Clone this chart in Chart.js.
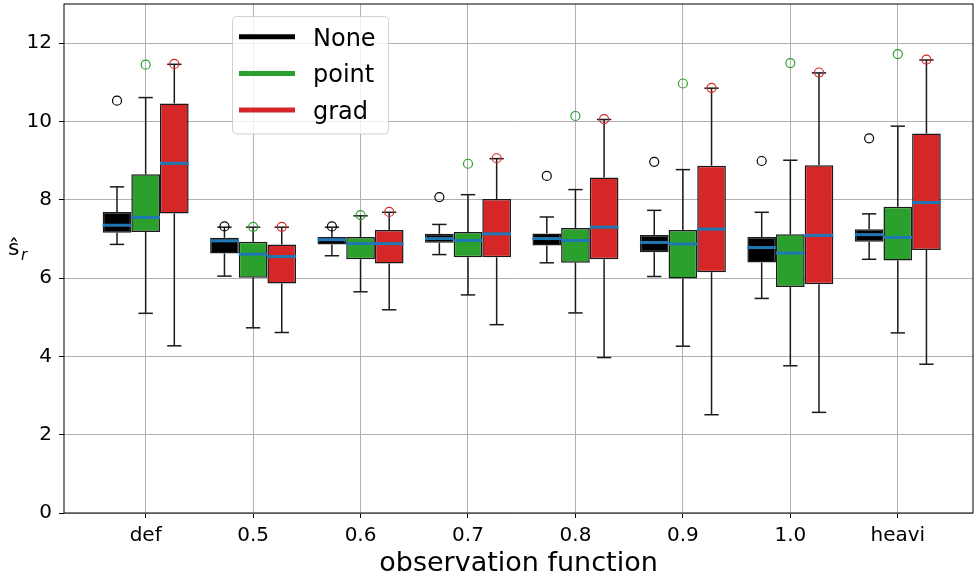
<!DOCTYPE html>
<html>
<head>
<meta charset="utf-8">
<script src="https://cdn.jsdelivr.net/npm/chart.js@4.4.0/dist/chart.umd.min.js"></script>
<style>
  html, body { margin: 0; padding: 0; background: #fff; }
  #wrap { width: 974px; height: 576px; }
</style>
</head>
<body>
<div id="wrap"><canvas id="boxChart" width="974" height="576"></canvas></div>
<script>
// x categories and series
const categories = ['def', '0.5', '0.6', '0.7', '0.8', '0.9', '1.0', 'heavi'];
const seriesNames = ['None', 'point', 'grad'];
const seriesColors = ['#000000', '#2ca02c', '#d62728'];
const yTicks = [0, 2, 4, 6, 8, 10, 12];

// per category: [whisker low, q1, median, q3, whisker high]
const noneBoxes = [
    [6.86, 7.16, 7.35, 7.69, 8.33],
    [6.05, 6.63, 6.95, 7.03, 7.30],
    [6.57, 6.86, 6.98, 7.05, 7.30],
    [6.60, 6.90, 7.01, 7.13, 7.37],
    [6.39, 6.83, 7.01, 7.14, 7.56],
    [6.04, 6.66, 6.91, 7.10, 7.73],
    [5.48, 6.40, 6.78, 7.05, 7.68],
    [6.48, 6.93, 7.11, 7.25, 7.64]
];
const pointBoxes = [
    [5.10, 7.18, 7.55, 8.65, 10.61],
    [4.73, 6.01, 6.61, 6.93, 7.30],
    [5.65, 6.48, 6.88, 7.05, 7.59],
    [5.57, 6.53, 6.96, 7.18, 8.13],
    [5.11, 6.39, 6.96, 7.28, 8.26],
    [4.26, 5.99, 6.87, 7.23, 8.77],
    [3.76, 5.77, 6.64, 7.12, 9.01],
    [4.60, 6.45, 7.04, 7.82, 9.88]
];
const gradBoxes = [
    [4.27, 7.65, 8.93, 10.46, 11.46],
    [4.61, 5.86, 6.55, 6.86, 7.30],
    [5.19, 6.37, 6.88, 7.23, 7.68],
    [4.81, 6.53, 7.13, 8.02, 9.05],
    [3.97, 6.48, 7.30, 8.57, 10.05],
    [2.51, 6.15, 7.25, 8.87, 10.85],
    [2.57, 5.84, 7.09, 8.88, 11.24],
    [3.80, 6.72, 7.93, 9.69, 11.57]
];

// outliers per category
const noneFliers = [[10.53], [7.32], [7.32], [8.07], [8.61], [8.97], [8.99], [9.57]];
const pointFliers = [[11.45], [7.31], [7.61], [8.92], [10.14], [10.97], [11.49], [11.72]];
const gradFliers = [[11.47], [7.31], [7.69], [9.06], [10.06], [10.86], [11.25], [11.58]];

const allBoxes = [noneBoxes, pointBoxes, gradBoxes];
const allFliers = [noneFliers, pointFliers, gradFliers];

Chart.defaults.font.family = "'DejaVu Sans', sans-serif";
Chart.defaults.color = '#000000';

function strokeLine(ctx, x1, y1, x2, y2) {
    ctx.beginPath();
    ctx.moveTo(x1, y1);
    ctx.lineTo(x2, y2);
    ctx.stroke();
}

// whiskers, medians and fliers on top of the floating bars
const boxExtras = {
    id: 'boxExtras',
    afterDatasetsDraw(chart) {
        const ctx = chart.ctx;
        const yScale = chart.scales.y;
        ctx.save();
        allBoxes.forEach((boxes, s) => {
            const meta = chart.getDatasetMeta(s);
            meta.data.forEach((bar, i) => {
                const [lo, q1, med, q3, hi] = boxes[i];
                const x = bar.x;
                const w = bar.width;
                const capHalf = w / 4;

                ctx.strokeStyle = '#1a1a1a';
                ctx.lineWidth = 1.5;
                const yLo = yScale.getPixelForValue(lo);
                const yHi = yScale.getPixelForValue(hi);
                strokeLine(ctx, x, yScale.getPixelForValue(q3), x, yHi);
                strokeLine(ctx, x, yScale.getPixelForValue(q1), x, yLo);
                strokeLine(ctx, x - capHalf, yHi, x + capHalf, yHi);
                strokeLine(ctx, x - capHalf, yLo, x + capHalf, yLo);

                ctx.strokeStyle = '#1f77b4';
                ctx.lineWidth = 3;
                const yMed = yScale.getPixelForValue(med);
                strokeLine(ctx, x - w / 2, yMed, x + w / 2, yMed);

                ctx.strokeStyle = seriesColors[s];
                ctx.lineWidth = 1.2;
                allFliers[s][i].forEach(v => {
                    ctx.beginPath();
                    ctx.arc(x, yScale.getPixelForValue(v), 4.5, 0, Math.PI * 2);
                    ctx.stroke();
                });
            });
        });
        ctx.restore();
    },
    afterDraw(chart) {
        const ctx = chart.ctx;
        const area = chart.chartArea;
        ctx.save();

        // axes frame
        ctx.strokeStyle = '#000000';
        ctx.lineWidth = 1;
        ctx.strokeRect(area.left, area.top, area.right - area.left, area.bottom - area.top);

        // legend box
        const lx = 232.5, ly = 16.5, lw = 156, lh = 117.5;
        ctx.beginPath();
        ctx.roundRect(lx, ly, lw, lh, 4);
        ctx.fillStyle = 'rgba(255,255,255,0.8)';
        ctx.fill();
        ctx.strokeStyle = '#d0d0d0';
        ctx.stroke();
        ctx.font = "24px 'DejaVu Sans'";
        ctx.textBaseline = 'alphabetic';
        seriesNames.forEach((name, s) => {
            const rowY = 36.7 + s * 36.7;
            ctx.strokeStyle = seriesColors[s];
            ctx.lineWidth = 5;
            strokeLine(ctx, 239, rowY, 295, rowY);
            ctx.fillStyle = '#000000';
            ctx.fillText(name, 313, rowY + 9);
        });

        // y axis label (horizontal, with subscript)
        ctx.fillStyle = '#000000';
        ctx.font = "22px 'DejaVu Sans'";
        ctx.fillText('ŝ', 8, 255);
        ctx.font = "italic 15px 'DejaVu Sans'";
        ctx.fillText('r', 21, 260);
        ctx.restore();
    }
};

new Chart(document.getElementById('boxChart'), {
    type: 'bar',
    data: {
        datasets: seriesNames.map((name, s) => ({
            label: name,
            data: allBoxes[s].map((b, i) => ({ x: i, y: [b[1], b[3]] })),
            backgroundColor: seriesColors[s],
            borderColor: '#1a1a1a',
            borderWidth: 1.5,
            borderSkipped: false,
            categoryPercentage: 0.8,
            barPercentage: 1.0
        }))
    },
    options: {
        responsive: false,
        animation: false,
        layout: { padding: { left: 0, right: 1, top: 4, bottom: 0 } },
        plugins: {
            legend: { display: false },
            tooltip: { enabled: false }
        },
        scales: {
            x: {
                type: 'linear',
                min: -0.76,
                max: 7.70,
                offset: false,
                afterFit: scale => {
                    scale.height = 63;
                    scale.paddingLeft = 0;
                    scale.paddingRight = 0;
                },
                afterBuildTicks: scale => {
                    scale.ticks = categories.map((c, i) => ({ value: i }));
                },
                ticks: {
                    font: { size: 20 },
                    color: '#000000',
                    padding: 6,
                    maxRotation: 0,
                    autoSkip: false,
                    callback: value => categories[value]
                },
                grid: {
                    offset: false,
                    color: '#b0b0b0',
                    lineWidth: 1,
                    tickLength: 5,
                    tickColor: '#000000'
                },
                border: { display: false },
                title: {
                    display: true,
                    text: 'observation function',
                    font: { size: 27 },
                    color: '#000000',
                    padding: { top: 0, bottom: -4 }
                }
            },
            y: {
                min: 0,
                max: 13,
                afterFit: scale => {
                    scale.width = 64;
                    scale.paddingTop = 0;
                    scale.paddingBottom = 0;
                },
                afterBuildTicks: scale => {
                    scale.ticks = yTicks.map(v => ({ value: v }));
                },
                ticks: {
                    font: { size: 20 },
                    color: '#000000',
                    padding: 7
                },
                grid: {
                    color: '#b0b0b0',
                    lineWidth: 1,
                    tickLength: 5,
                    tickColor: '#000000'
                },
                border: { display: false }
            }
        }
    },
    plugins: [boxExtras]
});
</script>
</body>
</html>
